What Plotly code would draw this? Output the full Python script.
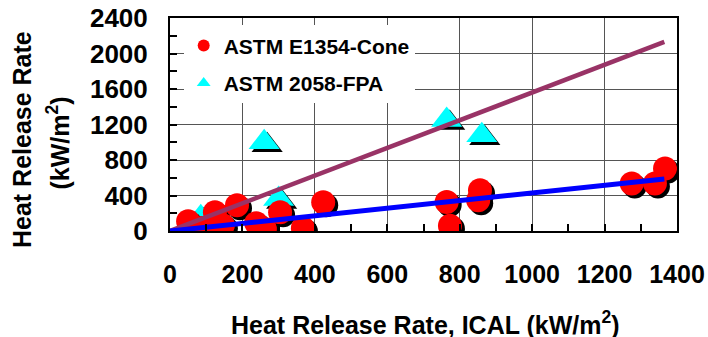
import plotly.graph_objects as go

# Data
cone_x = [50, 88, 124, 146, 185, 238, 262, 304, 367, 423, 764, 773, 851, 856, 1275, 1339, 1367]
cone_y = [110, 35, 211, 64, 290, 87, 22, 211, 30, 324, 328, 60, 347, 460, 535, 535, 705]
fpa_x = [85, 260, 300, 764, 861]
fpa_y = [155, 1000, 360, 1250, 1080]
fit_x = [0, 1365]
fpa_fit_y = [0, 2130]
cone_fit_y = [0, 585]

x_ticks = [0, 200, 400, 600, 800, 1000, 1200, 1400]
y_ticks = [0, 400, 800, 1200, 1600, 2000, 2400]

FONT = "Liberation Sans, Arial, sans-serif"
# shadow offset (about 3 px in data units)
SDX = 8.3
SDY = 34

fig = go.Figure()

# triangles (FPA) with shadow
fig.add_trace(go.Scatter(x=[v + SDX for v in fpa_x], y=[v - SDY for v in fpa_y], mode="markers",
                         marker=dict(symbol="triangle-up", size=27, color="black", line=dict(width=0)),
                         showlegend=False, hoverinfo="skip"))
fig.add_trace(go.Scatter(x=fpa_x, y=fpa_y, mode="markers",
                         marker=dict(symbol="triangle-up", size=27, color="#00FFFF", line=dict(width=0)),
                         showlegend=False))
# circles (Cone) with shadow
fig.add_trace(go.Scatter(x=[v + SDX for v in cone_x], y=[v - SDY for v in cone_y], mode="markers",
                         marker=dict(symbol="circle", size=24, color="black", line=dict(width=0)),
                         showlegend=False, hoverinfo="skip"))
fig.add_trace(go.Scatter(x=cone_x, y=cone_y, mode="markers",
                         marker=dict(symbol="circle", size=24, color="#FF0000", line=dict(width=0)),
                         showlegend=False))
# fit lines
fig.add_trace(go.Scatter(x=fit_x, y=fpa_fit_y, mode="lines",
                         line=dict(color="#993366", width=4.5), showlegend=False))
fig.add_trace(go.Scatter(x=fit_x, y=cone_fit_y, mode="lines",
                         line=dict(color="#0000FF", width=5), showlegend=False))

# legend entries
fig.add_trace(go.Scatter(x=[None], y=[None], mode="markers", name="ASTM E1354-Cone",
                         legendgroup="a",
                         marker=dict(symbol="circle", size=13, color="#FF0000")))
fig.add_trace(go.Scatter(x=[None], y=[None], mode="markers", name="ASTM 2058-FPA",
                         legendgroup="b",
                         marker=dict(symbol="triangle-up", size=15, color="#00FFFF")))

TITLE_FONT = dict(family=FONT, size=25, weight="bold", color="black")

fig.update_layout(
    width=708, height=337,
    margin=dict(l=170, r=31, t=18, b=106),
    paper_bgcolor="white", plot_bgcolor="white",
    font=dict(family=FONT, color="black"),
    legend=dict(x=0.027, y=0.965, xanchor="left", yanchor="top",
                bgcolor="white", borderwidth=0,
                font=dict(family=FONT, size=21, weight="bold", color="black"),
                itemsizing="constant", tracegroupgap=7),
    annotations=[
        dict(text="Heat Release Rate, ICAL (kW/m<sup>2</sup>)", xref="paper", yref="paper",
             x=0.503, y=-0.43, xanchor="center", yanchor="middle", showarrow=False,
             font=TITLE_FONT),
        dict(text="Heat Release Rate", xref="paper", yref="paper", textangle=-90,
             x=-0.292, y=0.4315, xanchor="center", yanchor="middle", showarrow=False,
             font=TITLE_FONT),
        dict(text="(kW/m<sup>2</sup>)", xref="paper", yref="paper", textangle=-90,
             x=-0.22, y=0.413, xanchor="center", yanchor="middle", showarrow=False,
             font=TITLE_FONT),
    ],
)

fig.update_xaxes(
    range=[0, 1400], tickvals=x_ticks, ticktext=[str(v) for v in x_ticks],
    automargin=False,
    showgrid=True, gridcolor="#555555", gridwidth=1,
    showline=True, linecolor="black", linewidth=2, mirror=True,
    ticks="inside", ticklen=7, tickcolor="black", tickwidth=1.5,
    minor=dict(dtick=100, tick0=0, ticks="inside", ticklen=7, tickcolor="black", tickwidth=1.5, showgrid=False),
    tickfont=dict(family=FONT, size=25, weight="bold", color="black"),
    ticklabelstandoff=20,
    zeroline=False,
)
fig.update_yaxes(
    range=[0, 2400], tickvals=y_ticks, ticktext=[str(v) for v in y_ticks],
    automargin=False,
    showgrid=True, gridcolor="#555555", gridwidth=1,
    showline=True, linecolor="black", linewidth=2, mirror=True,
    ticks="inside", ticklen=7, tickcolor="black", tickwidth=1.5,
    minor=dict(dtick=200, tick0=0, ticks="inside", ticklen=7, tickcolor="black", tickwidth=1.5, showgrid=False),
    tickfont=dict(family=FONT, size=26, weight="bold", color="black"),
    ticklabelstandoff=15,
    zeroline=False,
)

fig.write_html("out.html")
